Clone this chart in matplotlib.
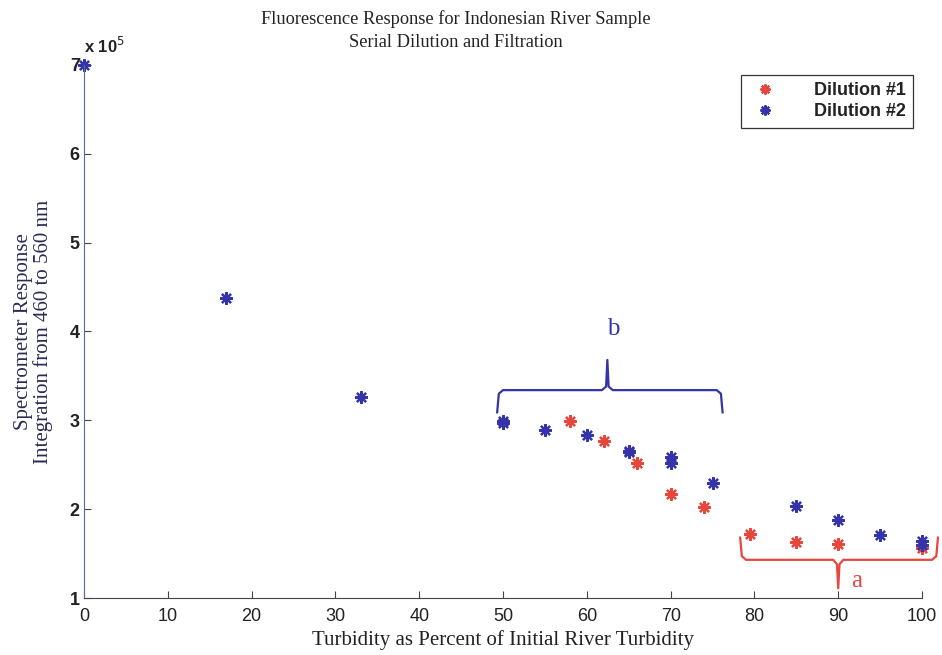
import matplotlib
matplotlib.use("Agg")
import matplotlib.pyplot as plt

# data, y in units of 1e5
turb_d1=[58,62,66,70,74,79.5,85,90,100]
resp_d1=[2.99,2.77,2.52,2.17,2.02,1.72,1.63,1.61,1.56]
turb_d2=[0,17,33,50,50,55,60,65,65,70,70,75,85,90,95,100,100]
resp_d2=[7.0,4.38,3.26,2.99,2.97,2.89,2.84,2.65,2.64,2.59,2.52,2.30,2.04,1.88,1.71,1.64,1.60]
xticks=list(range(0,101,10))
yticks=[1,2,3,4,5,6,7]

red="#e6473c"
blue="#3434a8"
serif=["Liberation Serif","DejaVu Serif"]
sans=["Liberation Sans","DejaVu Sans"]

fig=plt.figure(figsize=(9.42,6.55),dpi=100)
ax=fig.add_axes([0.0892,0.087,0.8896,0.8138])

star=(8,2,0)
ax.plot(turb_d1,resp_d1,linestyle="none",marker=star,ms=9,mew=1.6,color=red,label="Dilution #1",clip_on=False)
ax.plot(turb_d2,resp_d2,linestyle="none",marker=star,ms=9,mew=1.6,color=blue,label="Dilution #2",clip_on=False)

ax.set_xlim(0,100)
ax.set_ylim(1,7)
ax.set_xticks(xticks)
ax.set_yticks(yticks)
ax.set_xticklabels([str(t) for t in xticks],family=sans,fontsize=13,color="#222222")
ax.set_yticklabels([str(t) for t in yticks],family=sans,fontsize=13,color="#222222",fontweight="bold")
ax.tick_params(direction="in",length=5,width=0.8,colors="#444444")
ax.tick_params(axis="x",labelcolor="#222222",pad=7)
ax.tick_params(axis="y",labelcolor="#222222",pad=3)
for s in ["top","right"]: ax.spines[s].set_visible(False)
ax.spines["left"].set_color("#5a6a9a")
ax.spines["bottom"].set_color("#444444")

ax.text(0,7.1,"x 10$^5$",family=sans,fontsize=12,color="#222222",ha="left",va="bottom",fontweight="bold")

# brace b
bx=[49.3,49.5,50,61.8,62.3,62.45,62.6,63.1,75.5,76,76.2]
by=[3.09,3.3,3.34,3.34,3.38,3.68,3.38,3.34,3.34,3.3,3.09]
ax.plot(bx,by,color=blue,lw=1.6,clip_on=False)
ax.text(63.2,3.9,"b",family=serif,fontsize=18,color=blue,ha="center",va="bottom")

# brace a
ax_x=[78.3,78.5,79,89.4,89.85,90,90.15,90.6,101.2,101.7,101.9]
ax_y=[1.68,1.47,1.43,1.43,1.38,1.11,1.38,1.43,1.43,1.47,1.68]
ax.plot(ax_x,ax_y,color=red,lw=1.6,clip_on=False)
ax.text(91.5,1.07,"a",family=serif,fontsize=18,color=red,ha="left",va="bottom")

ax.set_xlabel("Turbidity as Percent of Initial River Turbidity",family=serif,fontsize=15,color="#222222",labelpad=4)
ax.set_ylabel("Spectrometer Response\nIntegration from 460 to 560 nm",family=serif,fontsize=15,color="#2a2a55",labelpad=12,linespacing=1.05)

fig.text(0.484,0.985,"Fluorescence Response for Indonesian River Sample\nSerial Dilution and Filtration",family=serif,fontsize=13.2,color="#222222",ha="center",va="top",linespacing=1.45)

leg=ax.legend(loc="upper right",bbox_to_anchor=(0.989,0.981),borderaxespad=0,fancybox=False,edgecolor="#333333",
              prop={"family":sans,"size":13,"weight":"bold"},handletextpad=1.8,borderpad=0.4,labelspacing=0.22,handlelength=1.8,framealpha=1,markerscale=0.8)
leg.get_frame().set_linewidth(0.9)
for t in leg.get_texts(): t.set_color("#222222")

fig.savefig("out.png",dpi=100)
